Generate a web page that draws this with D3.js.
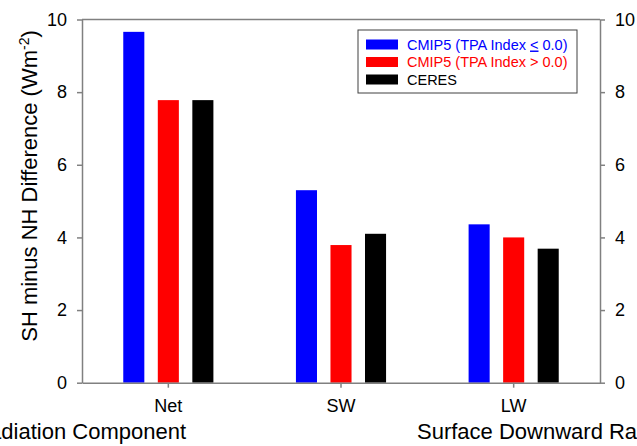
<!DOCTYPE html>
<html lang="en">
	<head>
		<meta charset="utf-8">
		<title>SH minus NH difference, grouped bars</title>
		<script type="text/javascript" src="https://d3js.org/d3.v7.min.js"></script>
		<style type="text/css">
			body { margin: 0; background: white; }
			svg text { font-family: "Liberation Sans", Arial, sans-serif; }
		</style>
	</head>
	<body>
		<script type="text/javascript">

			// data
			var categories = ["Net", "SW", "LW"];
			var seriesNames = ["CMIP5 (TPA Index \u2264 0.0)", "CMIP5 (TPA Index > 0.0)", "CERES"];
			var lowTPA  = [9.66, 5.30, 4.36];
			var highTPA = [7.78, 3.79, 4.00];
			var ceres   = [7.78, 4.10, 3.69];
			var yTicks  = [0, 2, 4, 6, 8, 10];
			var colors  = ["#0000ff", "#ff0000", "#000000"];

			var series = [lowTPA, highTPA, ceres];

			var w = 637;
			var h = 446;
			// (window.top is read-only, so not "top")
			var plotLeft = 82, plotRight = 600, plotTop = 19.5, plotBottom = 382.7;
			var axisColor = "#808080";

			var svg = d3.select("body")
						.append("svg")
						.attr("width", w)
						.attr("height", h);

			var x0 = d3.scaleBand()
						.domain(categories)
						.range([plotLeft, plotRight])
						.paddingInner(0.4)
						.paddingOuter(0.2);

			var x1 = d3.scaleBand()
						.domain(d3.range(series.length))
						.range([0, x0.bandwidth()])
						.paddingInner(0.39)
						.paddingOuter(0.195);

			var y = d3.scaleLinear()
						.domain([0, 10])
						.range([plotBottom, plotTop]);

			// bars
			var groups = svg.selectAll("g.group")
				.data(categories)
				.enter()
				.append("g")
				.attr("class", "group")
				.attr("transform", function(d) { return "translate(" + x0(d) + ",0)"; });

			groups.selectAll("rect")
				.data(function(d, i) { return series.map(function(s, k) { return { k: k, v: s[i] }; }); })
				.enter()
				.append("rect")
				.attr("x", function(d) { return x1(d.k); })
				.attr("y", function(d) { return y(d.v); })
				.attr("width", x1.bandwidth())
				.attr("height", function(d) { return plotBottom - y(d.v); })
				.attr("fill", function(d) { return colors[d.k]; });

			// frame top line
			svg.append("line")
				.attr("x1", plotLeft).attr("x2", plotRight)
				.attr("y1", plotTop).attr("y2", plotTop)
				.attr("stroke", axisColor)
				.attr("stroke-width", 1.5);

			function styleAxis(g, fontSize) {
				g.selectAll("path, line").attr("stroke", axisColor).attr("stroke-width", 1.5);
				g.selectAll("text")
					.attr("fill", "black")
					.style("font-size", fontSize + "px");
			}

			var yLeft = svg.append("g")
				.attr("transform", "translate(" + plotLeft + ",0)")
				.call(d3.axisLeft(y).tickValues(yTicks).tickSize(5).tickSizeOuter(0).tickPadding(10).tickFormat(d3.format("d")));
			styleAxis(yLeft, 18);

			var yRight = svg.append("g")
				.attr("transform", "translate(" + plotRight + ",0)")
				.call(d3.axisRight(y).tickValues(yTicks).tickSize(5).tickSizeOuter(0).tickPadding(10).tickFormat(d3.format("d")));
			styleAxis(yRight, 18);

			var xAxis = svg.append("g")
				.attr("transform", "translate(0," + plotBottom + ")")
				.call(d3.axisBottom(x0).tickSize(5).tickSizeOuter(0).tickPadding(12));
			styleAxis(xAxis, 18);

			// y axis title
			var yTitle = svg.append("text")
				.attr("transform", "translate(37," + 186 + ") rotate(-90)")
				.attr("text-anchor", "middle")
				.style("font-size", "22px")
				.attr("fill", "black");
			yTitle.append("tspan").text("SH minus NH Difference (Wm");
			yTitle.append("tspan").attr("dy", -8).style("font-size", "14px").text("-2");
			yTitle.append("tspan").attr("dy", 8).text(")");

			// pieces of neighbouring panel titles, cut by the crop
			svg.append("text")
				.attr("x", 186).attr("y", 439)
				.attr("text-anchor", "end")
				.style("font-size", "22px")
				.text("Radiation Component");

			svg.append("text")
				.attr("x", 417).attr("y", 439)
				.style("font-size", "22px")
				.text("Surface Downward Radiation");

			// legend
			var legend = svg.append("g").attr("transform", "translate(358,30)");

			legend.append("rect")
				.attr("width", 219)
				.attr("height", 63)
				.attr("fill", "white")
				.attr("stroke", "#404040")
				.attr("stroke-width", 1);

			var rows = legend.selectAll("g.row")
				.data(seriesNames)
				.enter()
				.append("g")
				.attr("class", "row")
				.attr("transform", function(d, i) { return "translate(8," + (9.5 + i * 17.5) + ")"; });

			rows.append("rect")
				.attr("width", 32)
				.attr("height", 10)
				.attr("fill", function(d, i) { return colors[i]; });

			var labels = rows.append("text")
				.attr("x", 41)
				.attr("y", 10)
				.style("font-size", "14.5px")
				.attr("fill", function(d, i) { return i == 2 ? "black" : colors[i]; });

			// the first label shows "<" underlined, as in the figure
			labels.each(function(d) {
				var t = d3.select(this);
				var parts = d.split("\u2264");
				if (parts.length == 2) {
					t.append("tspan").text(parts[0]);
					t.append("tspan").style("text-decoration", "underline").text("<");
					t.append("tspan").text(parts[1]);
				} else {
					t.text(d);
				}
			});

		</script>
	</body>
</html>
